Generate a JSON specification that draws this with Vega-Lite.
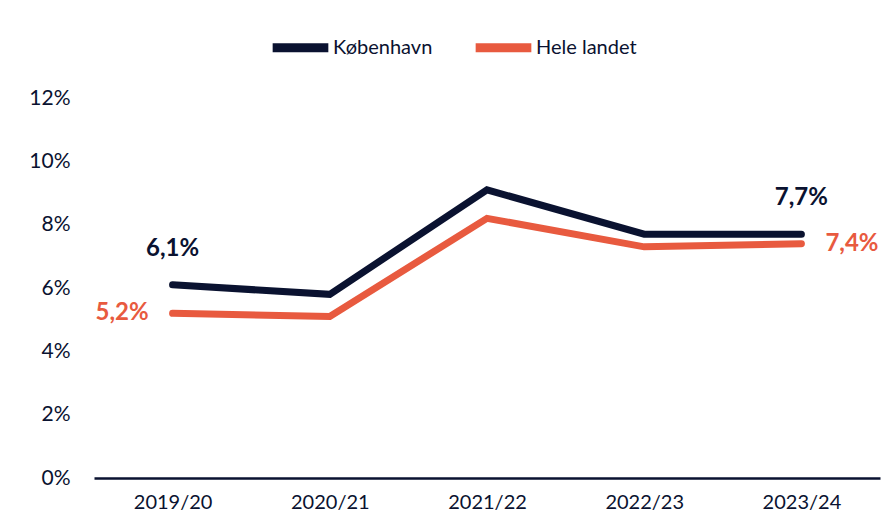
{
  "$schema": "https://vega.github.io/schema/vega-lite/v6.json",
  "width": 786,
  "height": 380,
  "autosize": {"type": "none"},
  "padding": {"left": 94, "top": 98, "right": 15, "bottom": 48},
  "background": "white",
  "config": {
    "locale": {"number": {"decimal": ",", "thousands": ".", "grouping": [3], "currency": ["", " kr."]}},
    "view": {"stroke": null},
    "font": "Lato",
    "text": {"font": "Lato"}
  },
  "data": {
    "values": [
      {"year": "2019/20", "serie": "København", "value": 0.061},
      {"year": "2020/21", "serie": "København", "value": 0.058},
      {"year": "2021/22", "serie": "København", "value": 0.091},
      {"year": "2022/23", "serie": "København", "value": 0.077},
      {"year": "2023/24", "serie": "København", "value": 0.077},
      {"year": "2019/20", "serie": "Hele landet", "value": 0.052},
      {"year": "2020/21", "serie": "Hele landet", "value": 0.051},
      {"year": "2021/22", "serie": "Hele landet", "value": 0.082},
      {"year": "2022/23", "serie": "Hele landet", "value": 0.073},
      {"year": "2023/24", "serie": "Hele landet", "value": 0.074}
    ]
  },
  "encoding": {
    "x": {
      "field": "year", "type": "ordinal", "title": null,
      "scale": {"type": "point", "padding": 0.5},
      "axis": {"labelAngle": 0, "domainColor": "#0a1230", "domainWidth": 2.5, "ticks": false, "labelPadding": 14, "labelFontSize": 20, "labelColor": "#0a1230", "labelFont": "Lato", "grid": false}
    },
    "y": {
      "field": "value", "type": "quantitative", "title": null,
      "scale": {"domain": [0, 0.12], "nice": false},
      "axis": {"values": [0, 0.02, 0.04, 0.06, 0.08, 0.1, 0.12], "format": ".0%", "domain": false, "ticks": false, "grid": false, "labelPadding": 24, "labelFontSize": 21, "labelColor": "#0a1230", "labelFont": "Lato"}
    }
  },
  "layer": [
    {
      "mark": {"type": "line", "strokeWidth": 7, "strokeCap": "round"},
      "encoding": {
        "color": {
          "field": "serie", "type": "nominal",
          "scale": {"domain": ["København", "Hele landet"], "range": ["#0a1230", "#e85a3f"]},
          "legend": {"title": null, "orient": "none", "direction": "horizontal", "legendX": 174, "legendY": -83, "symbolType": "stroke", "symbolSize": 3100, "symbolStrokeWidth": 9, "labelFontSize": 20, "labelColor": "#0a1230", "labelFont": "Lato", "labelOffset": 0, "columnPadding": 24}
        }
      }
    },
    {
      "transform": [{"filter": "datum.serie == 'København' && (datum.year == '2019/20' || datum.year == '2023/24')"}],
      "mark": {"type": "text", "dy": -36, "fontSize": 24, "fontWeight": "bold", "color": "#0a1230", "align": "center"},
      "encoding": {"text": {"field": "value", "type": "quantitative", "format": ".1%"}}
    },
    {
      "transform": [{"filter": "datum.serie == 'Hele landet' && datum.year == '2019/20'"}],
      "mark": {"type": "text", "dx": -24, "fontSize": 24, "fontWeight": "bold", "color": "#e85a3f", "align": "right", "baseline": "middle"},
      "encoding": {"text": {"field": "value", "type": "quantitative", "format": ".1%"}}
    },
    {
      "transform": [{"filter": "datum.serie == 'Hele landet' && datum.year == '2023/24'"}],
      "mark": {"type": "text", "dx": 24, "fontSize": 24, "fontWeight": "bold", "color": "#e85a3f", "align": "left", "baseline": "middle"},
      "encoding": {"text": {"field": "value", "type": "quantitative", "format": ".1%"}}
    }
  ]
}
